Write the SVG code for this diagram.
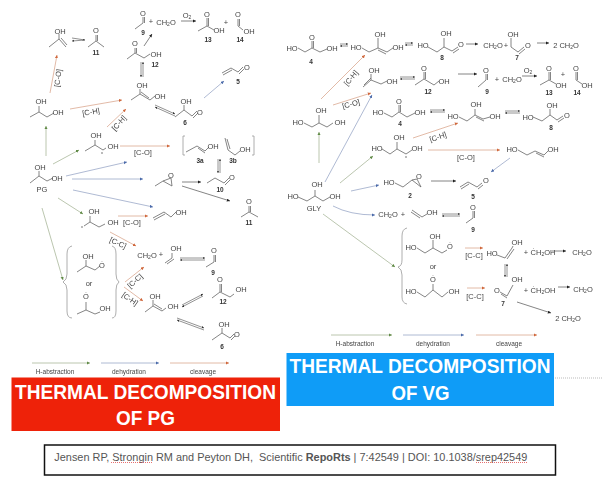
<svg xmlns="http://www.w3.org/2000/svg" width="602" height="486" viewBox="0 0 602 486">
<style>
text{font-family:"Liberation Sans",Arial,sans-serif;font-size:7.5px;fill:#444;text-anchor:middle;dominant-baseline:central}
.n{font-weight:bold;font-size:6.5px;fill:#333}
.t{font-size:6.5px}
.s{font-size:5px}
.b{fill:none;stroke:#666;stroke-width:.8}
.q{fill:none;stroke:#999;stroke-width:.8}
.c{fill:none;stroke-width:.8}
.g{stroke:#a9b89a;marker-end:url(#mg)}
.u{stroke:#9aa8c8;marker-end:url(#mu)}
.r{stroke:#dba890;marker-end:url(#mr)}
.k{stroke:#666;marker-end:url(#mk)}
.e{stroke:#777;marker-end:url(#mk2)}
.h{font-weight:bold;font-size:21px;fill:#fff;dominant-baseline:auto}
.w{fill:none;stroke:#d33;stroke-width:.7;stroke-dasharray:1 1}
</style>
<defs>
<marker id="mg" markerWidth="6" markerHeight="6" refX="4" refY="2" orient="auto"><path d="M0 0L4 2L0 4z" fill="#5f8a45"/></marker>
<marker id="mu" markerWidth="6" markerHeight="6" refX="4" refY="2" orient="auto"><path d="M0 0L4 2L0 4z" fill="#4a6aaa"/></marker>
<marker id="mr" markerWidth="6" markerHeight="6" refX="4" refY="2" orient="auto"><path d="M0 0L4 2L0 4z" fill="#d0663a"/></marker>
<marker id="mk" markerWidth="6" markerHeight="6" refX="4" refY="2" orient="auto"><path d="M0 0L4 2L0 4z" fill="#222"/></marker>
<marker id="mk2" markerWidth="5" markerHeight="5" refX="3" refY="1.5" orient="auto"><path d="M0 0L3 1.5L0 3z" fill="#333"/></marker>
<filter id="soft" x="-5%" y="-5%" width="110%" height="110%"><feGaussianBlur stdDeviation="0.45"/></filter>
</defs>
<rect width="602" height="486" fill="#fff"/>
<g filter="url(#soft)">
<g id="connectors">
<path class="c r" d="M50 93L57 55"/><path class="c r" d="M70 109L122 100"/><path class="c r" d="M107 127L126 109"/><path class="c r" d="M120 146L170 146"/><path class="c r" d="M118 216L148 216"/><path class="c r" d="M110 232L136 246"/><path class="c r" d="M125 282L144 267"/><path class="c r" d="M124 287L143 301"/>
<path class="c g" d="M46 156L46 126"/><path class="c g" d="M53 164L79 150"/><path class="c g" d="M58 198L83 214"/><path class="c g" d="M42 208L63 280"/>
<path class="c u" d="M66 176L127 162"/><path class="c u" d="M72 179L143 179"/><path class="c u" d="M73 190L153 207"/><path class="c u" d="M204 98L224 81"/>
<path class="c k" d="M144 46L152 34"/><path class="c k" d="M181 21L196 21"/><path class="c k" d="M182 182L201 182"/><path class="c k" d="M182 186L230 201"/>
<path class="c e" d="M72 38L85 40"/><path class="c e" d="M85 40L72 41"/><path class="c e" d="M141 62L141 77"/><path class="c e" d="M143 77L143 62"/><path class="c e" d="M155 105L175 114"/><path class="c e" d="M175 116L155 107"/><path class="c e" d="M218 159L218 173"/><path class="c e" d="M220 173L220 159"/><path class="c e" d="M180 258L205 258"/><path class="c e" d="M205 260L180 260"/><path class="c e" d="M182 305L203 294"/><path class="c e" d="M203 296L182 307"/><path class="c e" d="M177 318L204 328"/><path class="c e" d="M204 330L177 320"/>
<path class="c g" d="M32 363L90 363"/><path class="c u" d="M101 363L159 363"/><path class="c r" d="M170 363L229 363"/>
<path class="c r" d="M321 99L365 55"/><path class="c r" d="M333 105L371 93"/><path class="c r" d="M413 138L458 123"/><path class="c r" d="M428 150L500 150"/><path class="c r" d="M465 248L483 248"/><path class="c r" d="M467 288L485 288"/>
<path class="c g" d="M319 163L319 132"/><path class="c g" d="M340 183L373 156"/><path class="c g" d="M323 214L395 267"/>
<path class="c u" d="M325 182L372 95"/><path class="c u" d="M510 158L491 172"/><path class="c u" d="M351 191L379 185"/><path class="c u" d="M333 206Q350 215 375 215"/>
<path class="c k" d="M466 44L478 44"/><path class="c k" d="M537 43L549 43"/><path class="c k" d="M458 74L477 74"/><path class="c k" d="M522 76L537 76"/><path class="c k" d="M431 181L456 181"/><path class="c k" d="M552 251L566 251"/><path class="c k" d="M558 287L570 287"/><path class="c k" d="M517 302L551 313"/>
<path class="c e" d="M340 44L348 44"/><path class="c e" d="M348 46L340 46"/><path class="c e" d="M405 43L413 43"/><path class="c e" d="M413 45L405 45"/><path class="c e" d="M400 77L415 77"/><path class="c e" d="M415 79L400 79"/><path class="c e" d="M430 110L445 110"/><path class="c e" d="M445 112L430 112"/><path class="c e" d="M505 111L520 111"/><path class="c e" d="M520 113L505 113"/><path class="c e" d="M442 214L460 214"/><path class="c e" d="M460 216L442 216"/><path class="c e" d="M505 264L505 277"/><path class="c e" d="M507 277L507 264"/>
<path class="c g" d="M331 335L392 335"/><path class="c u" d="M403 335L464 335"/><path class="c r" d="M476 335L537 335"/>
</g>
<g id="pg-labels">
<text x="58" y="78" transform="rotate(-82 58 78)">[C-O]</text><text x="91" y="112" transform="rotate(-10 91 112)">[C-H]</text><text x="119" y="123" transform="rotate(-48 119 123)">[C-H]</text><text x="143" y="152">[C-O]</text><text x="132" y="222">[C-O]</text><text x="118" y="243" transform="rotate(25 118 243)">[C-C]</text><text x="135" y="281" transform="rotate(-42 135 281)">[C-C]</text><text x="130" y="299" transform="rotate(35 130 299)">[C-H]</text>
<text class="t" x="55" y="371">H-abstraction</text><text class="t" x="129" y="371">dehydration</text><text class="t" x="203" y="371">cleavage</text>
</g>
<g id="pg-enol"><path class="b" d="M49 47L59 39L66 47M59 39V34M61 38L67 45"/><text x="60" y="31">OH</text></g>
<g id="pg-11a"><path class="b" d="M88 47L96 41L104 47M96 41V35M97.500 41V35"/><text x="96" y="30">O</text><text class="n" x="96" y="52">11</text></g>
<g id="pg-9a"><path class="b" d="M135 29L143 23V17M144.500 23V17"/><text x="143" y="13">O</text><text class="n" x="143" y="32">9</text></g>
<g id="pg-ch2o-a"><text x="151" y="21">+</text><text x="166" y="22">CH<tspan class="s" dy="1.500">2</tspan><tspan dy="-1.500">O</tspan></text><text x="187" y="15">O<tspan class="s" dy="1.500">2</tspan></text></g>
<g id="pg-13"><path class="b" d="M198 31L207 26L214 30M207 26V18M208.500 26V18"/><text x="207" y="14">O</text><text x="219" y="30">OH</text><text class="n" x="208" y="39">13</text></g>
<g id="pg-14"><text x="226" y="22">+</text><path class="b" d="M238 19V26L243 30M239.500 19V26"/><text x="238" y="14">O</text><text x="249" y="31">OH</text><text class="n" x="240" y="39">14</text></g>
<g id="pg-12a"><path class="b" d="M127 59L135 53L144 58L150 54M135 53V48M136.500 53V48"/><text x="135" y="43">O</text><text x="156" y="54">OH</text><text class="n" x="155" y="64">12</text></g>
<g id="pg-enediol-a"><path class="b" d="M131 100L140 94L150 100L155 96M140 94V89M141 92L149 98"/><text x="142" y="85">OH</text><text x="160" y="96">OH</text></g>
<g id="pg-6a"><path class="b" d="M175 117L184 110L192 116L197 111M193 118L198 113M184 110V105"/><text x="186" y="101">OH</text><text x="200" y="112">O</text><text class="n" x="185" y="122">6</text></g>
<g id="pg-5"><path class="b" d="M222 73L231 68L238 72L243 67M223 75L232 70M239 74L244 69"/><text x="247" y="67">O</text><text class="n" x="238" y="81">5</text></g>
<g id="pg-diol"><path class="b" d="M30 117L39 112L47 117L54 113M39 112V106"/><text x="41" y="101">OH</text><text x="58" y="112">OH</text></g>
<g id="pg-radical-a"><path class="b" d="M85 151L95 145L103 150L106 148M95 145V140"/><circle cx="102" cy="153" r=".7" fill="#444"/><text x="96" y="135">OH</text><text x="113" y="146">OH</text></g>
<g id="pg-3"><path class="q" d="M185 136H183V155H185M252 136H254V155H252"/><path class="b" d="M186 152L197 146L205 151L209 147M198 148L205 153M225 138L228 150L235 155L240 151M227 139L230 149"/><text x="213" y="146">OH</text><text class="n" x="200" y="160">3a</text><text x="245" y="149">OH</text><text class="n" x="233" y="160">3b</text></g>
<g id="PG"><path class="b" d="M30 183L39 176L47 181L53 178M39 176V171"/><text x="40" y="167">OH</text><text x="57" y="178">OH</text><text x="42" y="189">PG</text></g>
<g id="pg-oxirane"><path class="b" d="M155 186L163 181L171 178L172 186L163 181"/><text x="171" y="175">O</text></g>
<g id="pg-10"><path class="b" d="M207 183L215 178L224 183L229 178M225 185L230 180"/><text x="232" y="177">O</text><text class="n" x="220" y="189">10</text></g>
<g id="pg-11b"><path class="b" d="M241 217L249 212L258 217M249 212V206M250.500 212V206"/><text x="249" y="201">O</text><text class="n" x="249" y="222">11</text></g>
<g id="pg-radical-b"><path class="b" d="M84 226L90 222L99 227L105 224M90 222V216"/><circle cx="82" cy="227" r=".7" fill="#444"/><text x="94" y="211">OH</text><text x="113" y="222">OH</text></g>
<g id="pg-allyl"><path class="b" d="M153 218L164 212L171 217L176 212M154 220L165 214"/><text x="181" y="212">OH</text></g>
<g id="pg-ch2o-b"><text x="147" y="255">CH<tspan class="s" dy="1.500">2</tspan><tspan dy="-1.500">O</tspan></text><text x="161" y="254">+</text><path class="b" d="M165 263L172 258V253M167 264L174 259"/><text x="176" y="248">OH</text></g>
<g id="pg-9b"><path class="b" d="M206 267L214 262V255M215.500 262V255"/><text x="214" y="250">O</text><text class="n" x="213" y="272">9</text></g>
<g id="pg-brace"><path class="q" d="M72 246Q67 247 67 254V274Q67 280 63 282Q67 284 67 290V311Q67 318 72 318M112 246Q116 247 116 254V274Q116 280 119 282Q116 284 116 290V311Q116 318 112 318"/></g>
<g id="pg-rad1"><path class="b" d="M77 272L86 266L95 270L100 266M86 266V260"/><text x="88" y="256">OH</text><text x="102" y="265">Ȯ</text><text x="89" y="283">or</text></g>
<g id="pg-rad2"><path class="b" d="M77 314L86 310L95 314L100 312M86 310V302"/><text x="86" y="296">Ȯ</text><text x="105" y="308">OH</text></g>
<g id="pg-enediol-b"><path class="b" d="M145 312L153 306L162 311L166 308M153 306V300M154 304L162 309"/><text x="155" y="296">OH</text><text x="173" y="306">OH</text></g>
<g id="pg-12b"><path class="b" d="M212 298L220 292L230 297L234 294M220 292V284M221.500 292V284"/><text x="220" y="279">O</text><text x="241" y="289">OH</text><text class="n" x="223" y="301">12</text></g>
<g id="pg-6b"><path class="b" d="M212 340L222 333L230 338L234 334M231 340L235 336M222 333V328"/><text x="224" y="324">OH</text><text x="237" y="334">O</text><text class="n" x="222" y="346">6</text></g>

<g id="gly-labels">
<text x="351" y="78" transform="rotate(-50 351 78)">[C-H]</text><text x="351" y="104" transform="rotate(-15 351 104)">[C-O]</text><text x="438" y="137" transform="rotate(-18 438 137)">[C-H]</text><text x="466" y="157">[C-O]</text><text x="474" y="255">[C-C]</text><text x="475" y="296">[C-C]</text>
<text class="t" x="355" y="343">H-abstraction</text><text class="t" x="433" y="343">dehydration</text><text class="t" x="509" y="343">cleavage</text>
</g>
<g id="gly-4a"><path class="b" d="M298 48L305 52L312 48L320 52L327 49M312 48V41M313.500 48V41"/><text x="292" y="48">HO</text><text x="312" y="37">O</text><text x="332" y="48">OH</text><text class="n" x="311" y="61">4</text></g>
<g id="gly-enediol-a"><path class="b" d="M362 48L369 52L378 48L387 52L393 48M378 48V38M378 50L386 54"/><text x="356" y="47">HO</text><text x="380" y="34">OH</text><text x="398" y="47">OH</text></g>
<g id="gly-8a"><path class="b" d="M428 47L437 52L444 47L452 51L458 47M444 47V38M453 53L459 49"/><text x="423" y="45">HO</text><text x="446" y="33">OH</text><text x="461" y="44">O</text><text class="n" x="442" y="57">8</text></g>
<g id="gly-ch2o-a"><text x="493" y="45">CH<tspan class="s" dy="1.500">2</tspan><tspan dy="-1.500">O</tspan></text><text x="506" y="45">+</text></g>
<g id="gly-7a"><path class="b" d="M511 38V47L518 52L524 47M519 54L525 49"/><text x="513" y="34">OH</text><text x="528" y="45">O</text><text class="n" x="517" y="57">7</text></g>
<g id="gly-2ch2o-a"><text x="566" y="45">2 CH<tspan class="s" dy="1.500">2</tspan><tspan dy="-1.500">O</tspan></text></g>
<g id="gly-enol"><path class="b" d="M363 87L371 80L381 84L387 81M364 85L371 78M371 80V74"/><text x="374" y="70">OH</text><text x="392" y="81">OH</text></g>
<g id="gly-12"><path class="b" d="M415 85L424 79L434 85L439 81M424 79V72M425.500 79V72"/><text x="424" y="68">O</text><text x="444" y="81">OH</text><text class="n" x="428" y="91">12</text></g>
<g id="gly-9a"><path class="b" d="M478 87L486 80V74M487.500 80V74"/><text x="486" y="70">O</text><text class="n" x="487" y="91">9</text></g>
<g id="gly-ch2o-b"><text x="497" y="79">+</text><text x="512" y="79">CH<tspan class="s" dy="1.500">2</tspan><tspan dy="-1.500">O</tspan></text><text x="528" y="70">O<tspan class="s" dy="1.500">2</tspan></text></g>
<g id="gly-13"><path class="b" d="M540 85L549 80L556 84M549 80V72M550.500 80V72"/><text x="549" y="68">O</text><text x="561" y="85">OH</text><text class="n" x="549" y="92">13</text></g>
<g id="gly-14"><text x="563" y="74">+</text><path class="b" d="M576 72V80L582 84M577.500 72V80"/><text x="576" y="68">O</text><text x="587" y="85">OH</text><text class="n" x="577" y="92">14</text></g>
<g id="gly-radical-a"><path class="b" d="M304 123L312 127L319 123L327 127L333 123M319 115V123"/><text x="298" y="122">HO</text><text x="321" y="110">OH</text><text x="340" y="122">OH</text></g>
<g id="gly-4b"><path class="b" d="M384 113L392 117L399 112L407 117L415 113M399 112V105M400.500 112V105"/><text x="378" y="112">HO</text><text x="399" y="101">O</text><text x="420" y="112">OH</text><text class="n" x="400" y="123">4</text></g>
<g id="gly-enediol-b"><path class="b" d="M459 117L467 121L475 115L483 119L490 117M475 115V109M476 117L484 121"/><text x="453" y="116">HO</text><text x="476" y="104">OH</text><text x="495" y="116">OH</text></g>
<g id="gly-8b"><path class="b" d="M533 117L542 121L550 115L557 120L563 116M558 122L564 118M550 115V109"/><text x="528" y="117">HO</text><text x="552" y="105">OH</text><text x="567" y="115">O</text><text class="n" x="551" y="127">8</text></g>
<g id="gly-radical-b"><path class="b" d="M382 149L390 154L397 149L406 154L412 150M397 149V142"/><circle cx="406" cy="157" r=".7" fill="#444"/><text x="377" y="148">HO</text><text x="399" y="137">OH</text><text x="417" y="148">OH</text></g>
<g id="gly-alkene"><path class="b" d="M518 150L527 155L535 151L544 155L548 151M536 153L544 157"/><text x="512" y="149">HO</text><text x="553" y="149">OH</text></g>
<g id="GLY"><path class="b" d="M298 197L307 201L315 196L323 201L330 197M315 196V190"/><text x="317" y="184">OH</text><text x="293" y="196">HO</text><text x="335" y="196">OH</text><text x="314" y="208">GLY</text></g>
<g id="gly-2"><path class="b" d="M395 183L403 187L412 180L417 179L421 187L412 180"/><text x="389" y="182">HO</text><text x="419" y="176">O</text><text class="n" x="410" y="195">2</text></g>
<g id="gly-5"><path class="b" d="M460 187L468 182L477 187L482 183M461 189L469 184M478 189L483 185"/><text x="486" y="180">O</text><text class="n" x="473" y="196">5</text></g>
<g id="gly-ch2o-c"><text x="388" y="214">CH<tspan class="s" dy="1.500">2</tspan><tspan dy="-1.500">O</tspan></text><text x="403" y="214">+</text><path class="b" d="M412 210L422 217L427 214M411 212L420 218"/><text x="432" y="212">OH</text></g>
<g id="gly-9b"><path class="b" d="M466 223L473 218V211M474.500 218V211"/><text x="473" y="207">O</text><text class="n" x="473" y="229">9</text></g>
<g id="gly-brace"><path class="q" d="M407 228Q402 229 402 236V260Q402 266 398 267Q402 269 402 275V297Q402 303 407 304"/></g>
<g id="gly-rad1"><path class="b" d="M417 248L425 253L433 248L442 253L447 250M433 248V240"/><text x="435" y="236">OH</text><text x="411" y="247">HO</text><text x="450" y="246">Ȯ</text><text x="433" y="266">or</text></g>
<g id="gly-rad2"><path class="b" d="M417 292L425 297L433 290L442 297L448 292M433 290V284"/><text x="433" y="279">Ȯ</text><text x="411" y="291">HO</text><text x="454" y="291">OH</text></g>
<g id="gly-enediol-c"><path class="b" d="M497 255L505 258L512 248M507 259L514 249M512 248L513 246"/><text x="492" y="253">HO</text><text x="517" y="242">OH</text></g>
<g id="gly-ch2oh-a"><text x="526" y="252">+</text><text x="543" y="252">ĊH<tspan class="s" dy="1.500">2</tspan><tspan dy="-1.500">OH</tspan></text><text x="582" y="252">CH<tspan class="s" dy="1.500">2</tspan><tspan dy="-1.500">O</tspan></text></g>
<g id="gly-7b"><path class="b" d="M500 292L507 296L513 285M501 294L507 298"/><text x="517" y="279">OH</text><text x="497" y="290">O</text><text class="n" x="503" y="303">7</text></g>
<g id="gly-ch2oh-b"><text x="526" y="290">+</text><text x="543" y="290">ĊH<tspan class="s" dy="1.500">2</tspan><tspan dy="-1.500">OH</tspan></text><text x="583" y="289">CH<tspan class="s" dy="1.500">2</tspan><tspan dy="-1.500">O</tspan></text></g>
<g id="gly-2ch2o-b"><text x="568" y="318">2 CH<tspan class="s" dy="1.500">2</tspan><tspan dy="-1.500">O</tspan></text></g>
</g>
<g id="title-pg"><rect x="11.500" y="377.500" width="268.500" height="53.500" fill="#ee2209"/><text class="h" x="145.500" y="398.500" textLength="261" lengthAdjust="spacingAndGlyphs">THERMAL DECOMPOSITION</text><text class="h" x="145.500" y="425" textLength="59" lengthAdjust="spacingAndGlyphs">OF PG</text></g>
<g id="title-vg"><rect x="286.500" y="353" width="267.500" height="53" fill="#0f9cf7"/><text class="h" x="420" y="373" textLength="261" lengthAdjust="spacingAndGlyphs">THERMAL DECOMPOSITION</text><text class="h" x="420.500" y="400" textLength="58" lengthAdjust="spacingAndGlyphs">OF VG</text></g>
<path d="M555 378H602" stroke="#aaa" stroke-width=".8" stroke-dasharray="1 1" fill="none"/>
<g id="citation"><rect x="44.500" y="445" width="511" height="30" fill="#fff" stroke="#111" stroke-width="1.500"/><text x="54.300" y="461" textLength="473" lengthAdjust="spacingAndGlyphs" style="text-anchor:start;font-size:10.500px;dominant-baseline:auto;fill:#555;white-space:pre">Jensen RP, Strongin RM and Peyton DH,  Scientific <tspan font-weight="bold">RepoRts</tspan> | 7:42549 | DOI: 10.1038/srep42549</text><path class="w" d="M111 462.500H152M476 462.500H527"/></g>
</svg>
